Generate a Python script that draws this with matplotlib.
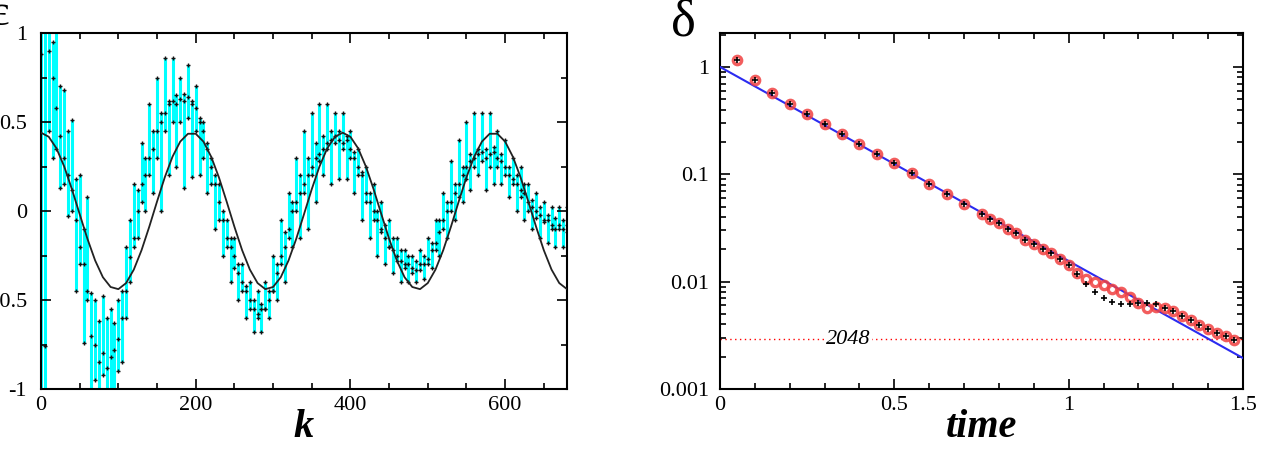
import numpy as np
import matplotlib
matplotlib.use("Agg")
import matplotlib.pyplot as plt
from matplotlib.ticker import MultipleLocator, LogLocator, NullFormatter

plt.rcParams['font.family'] = 'serif'
plt.rcParams['font.serif'] = ['Liberation Serif']
plt.rcParams['axes.unicode_minus'] = False

# ---------------- left panel data ----------------
k_pts = np.arange(0, 681, 5)   # sample positions
y_hi = [1.2, 1.2, 1.1, 0.95, 1.05, 0.7, 0.68, 0.45, 0.51, 0.18,
        0.2, -0.1, 0.08, -0.46, -0.5, -0.62, -0.48, -0.6, -0.55, -0.63,
        -0.5, -0.45, -0.2, -0.05, 0.15, 0.12, 0.38, 0.3, 0.6, 0.45,
        0.75, 0.55, 0.86, 0.62, 0.86, 0.65, 0.75, 0.66, 0.82, 0.62,
        0.7, 0.52, 0.5, 0.38, 0.3, 0.2, 0.15, 0.0, -0.05, -0.15,
        -0.15, -0.3, -0.3, -0.42, -0.4, -0.5, -0.45, -0.52, -0.4, -0.45,
        -0.25, -0.3, -0.05, -0.12, 0.1, 0.05, 0.3, 0.2, 0.45, 0.3,
        0.55, 0.38, 0.6, 0.42, 0.6, 0.45, 0.55, 0.45, 0.55, 0.42,
        0.45, 0.33, 0.35, 0.22, 0.25, 0.1, 0.15, 0.0, 0.05, -0.08,
        -0.05, -0.15, -0.15, -0.22, -0.22, -0.25, -0.25, -0.28, -0.22, -0.25,
        -0.15, -0.18, -0.05, -0.05, 0.1, 0.05, 0.28, 0.15, 0.4, 0.25,
        0.5, 0.32, 0.55, 0.35, 0.55, 0.35, 0.55, 0.36, 0.45, 0.32,
        0.4, 0.25, 0.3, 0.2, 0.25, 0.15, 0.15, 0.06, 0.1, 0.02,
        0.05, -0.02, 0.02, -0.04, 0.02, -0.05, 0.02]
y_lo = [-1.2, -1.2, 0.45, 0.3, 0.35, 0.13, 0.15, -0.03, 0.0, -0.45,
        -0.3, -0.74, -0.5, -1.1, -0.95, -1.1, -0.92, -1.1, -1.1, -1.05,
        -0.9, -0.85, -0.6, -0.4, -0.2, -0.15, 0.05, 0.0, 0.2, 0.1,
        0.3, 0.0, 0.45, 0.2, 0.5, 0.25, 0.5, 0.13, 0.52, 0.19,
        0.45, 0.2, 0.3, 0.1, 0.15, -0.1, -0.05, -0.25, -0.2, -0.4,
        -0.32, -0.5, -0.45, -0.6, -0.55, -0.68, -0.6, -0.68, -0.55, -0.6,
        -0.45, -0.5, -0.3, -0.4, -0.15, -0.2, 0.0, -0.15, 0.1, -0.1,
        0.2, 0.05, 0.28, 0.2, 0.35, 0.15, 0.38, 0.18, 0.35, 0.18,
        0.3, 0.1, 0.2, -0.05, 0.05, -0.15, -0.05, -0.25, -0.12, -0.3,
        -0.2, -0.35, -0.28, -0.4, -0.32, -0.4, -0.35, -0.4, -0.33, -0.38,
        -0.3, -0.32, -0.22, -0.25, -0.1, -0.15, 0.0, -0.05, 0.08, 0.05,
        0.18, 0.12, 0.25, 0.2, 0.28, 0.12, 0.25, 0.15, 0.25, 0.15,
        0.2, 0.08, 0.15, 0.0, 0.08, -0.05, 0.0, -0.1, -0.04, -0.15,
        -0.06, -0.18, -0.1, -0.2, -0.1, -0.2, -0.12]
y_mid = [0.88, -0.76, 0.9, 0.75, 0.58, 0.42, 0.3, 0.2, 0.12, -0.05,
         -0.2, -0.3, -0.45, -0.7, -0.75, -0.85, -0.8, -0.88, -0.82, -0.78,
         -0.72, -0.6, -0.45, -0.26, -0.15, 0.0, 0.15, 0.2, 0.3, 0.35,
         0.45, 0.5, 0.55, 0.6, 0.62, 0.6, 0.63, 0.62, 0.64, 0.6,
         0.58, 0.5, 0.45, 0.35, 0.25, 0.15, 0.05, -0.05, -0.15, -0.2,
         -0.25, -0.35, -0.4, -0.45, -0.5, -0.55, -0.58, -0.55, -0.55, -0.5,
         -0.45, -0.35, -0.25, -0.2, -0.1, 0.0, 0.05, 0.1, 0.15, 0.2,
         0.25, 0.3, 0.32, 0.35, 0.38, 0.4, 0.42, 0.4, 0.38, 0.4,
         0.35, 0.3, 0.25, 0.2, 0.1, 0.05, 0.0, -0.05, -0.1, -0.15,
         -0.2, -0.22, -0.25, -0.28, -0.3, -0.3, -0.32, -0.33, -0.3, -0.3,
         -0.27, -0.22, -0.18, -0.12, -0.05, 0.0, 0.05, 0.1, 0.15, 0.2,
         0.25, 0.28, 0.3, 0.32, 0.33, 0.3, 0.32, 0.33, 0.3, 0.28,
         0.25, 0.2, 0.18, 0.15, 0.12, 0.1, 0.05, 0.02, 0.0, -0.02,
         -0.05, -0.05, -0.08, -0.1, -0.08, -0.1, -0.08]

# reference cosine curve, read every 10 in k
k_curve = np.arange(0, 681, 10)
y_curve = [0.440, 0.417, 0.352, 0.250, 0.122, -0.018, -0.156, -0.278, -0.372, -0.427,
           -0.439, -0.405, -0.329, -0.220, -0.088, 0.053, 0.189, 0.305, 0.390, 0.434,
           0.434, 0.390, 0.305, 0.189, 0.053, -0.088, -0.220, -0.329, -0.405, -0.439,
           -0.427, -0.372, -0.278, -0.156, -0.018, 0.122, 0.250, 0.352, 0.417, 0.440,
           0.417, 0.352, 0.250, 0.122, -0.018, -0.156, -0.278, -0.372, -0.427, -0.439,
           -0.405, -0.329, -0.220, -0.088, 0.053, 0.189, 0.305, 0.390, 0.434, 0.434,
           0.390, 0.305, 0.189, 0.053, -0.088, -0.220, -0.329, -0.405, -0.439]

# ---------------- right panel data ----------------
t_red = [0.05, 0.1, 0.15, 0.2, 0.25, 0.3, 0.35, 0.4, 0.45, 0.5, 0.55, 0.6, 0.65, 0.7, 0.75,
         0.775, 0.8, 0.825, 0.85, 0.875, 0.9, 0.925, 0.95, 0.975, 1.0, 1.025, 1.05, 1.075,
         1.1, 1.125, 1.15, 1.175, 1.2, 1.225, 1.25, 1.275, 1.3, 1.325, 1.35, 1.375, 1.4,
         1.425, 1.45, 1.475]
d_red = [1.16, 0.756, 0.575, 0.452, 0.362, 0.294, 0.237, 0.192, 0.155, 0.127, 0.102,
         0.0817, 0.0659, 0.0532, 0.0427, 0.0386, 0.0349, 0.0309, 0.0282, 0.0244, 0.0223,
         0.0201, 0.0184, 0.0163, 0.0143, 0.0121, 0.0106, 0.00998, 0.00924, 0.00859,
         0.00795, 0.00714, 0.00636, 0.00571, 0.00583, 0.00571, 0.00532, 0.00481, 0.00439,
         0.00397, 0.00364, 0.00334, 0.00311, 0.00286]
t_plus = t_red
d_plus = [1.16, 0.756, 0.575, 0.452, 0.362, 0.294, 0.237, 0.192, 0.155, 0.127, 0.102,
          0.0817, 0.0659, 0.0532, 0.0427, 0.0386, 0.0349, 0.0309, 0.0282, 0.0244, 0.0223,
          0.0201, 0.0184, 0.0163, 0.0143, 0.0118, 0.0095, 0.00805, 0.00708, 0.00646,
          0.00622, 0.00622, 0.00626, 0.00626, 0.0062, 0.00571, 0.00532, 0.00481, 0.00439,
          0.00397, 0.00364, 0.00334, 0.00311, 0.00286]
t_fit = [0.0, 1.5]
d_fit = [1.0, 0.00194]
level_2048 = 0.0029

fig = plt.figure(figsize=(12.66, 4.54), dpi=100)
ax1 = fig.add_axes([41/1266, 1-389/454, (567-41)/1266, (389-33)/454])
ax2 = fig.add_axes([720/1266, 1-389/454, (1243-720)/1266, (389-33)/454])

# left panel
ax1.vlines(k_pts, y_lo, y_hi, colors='#00ffff', lw=2.2, zorder=1)
ax1.plot(k_pts, y_hi, '+', color='#111111', ms=3.5, mew=1.0, zorder=2)
ax1.plot(k_pts, y_lo, '+', color='#111111', ms=3.5, mew=1.0, zorder=2)
ax1.plot(k_pts, y_mid, '+', color='#111111', ms=3.5, mew=1.0, zorder=2)
ax1.plot(k_curve, y_curve, color='#222222', lw=1.3, zorder=3)
ax1.set_xlim(0, 680)
ax1.set_ylim(-1, 1)
ax1.set_xticks([0, 200, 400, 600])
ax1.set_yticks([-1, -0.5, 0, 0.5, 1])
ax1.set_yticklabels(['-1', '-0.5', '0', '0.5', '1'])
ax1.xaxis.set_minor_locator(MultipleLocator(50))
ax1.yaxis.set_minor_locator(MultipleLocator(0.25))
ax1.set_xlabel('k', fontsize=29, fontweight='bold', style='italic', labelpad=-4)

# right panel
ax2.axhline(level_2048, color='red', ls=(0, (1, 2.5)), lw=1.0, zorder=1)
ax2.text(0.367, level_2048, '2048', fontsize=16, style='italic', ha='center', va='center',
         bbox=dict(fc='white', ec='none', pad=1), zorder=2)
ax2.plot(t_fit, d_fit, color='#2b2bf0', lw=1.5, zorder=3)
ax2.plot(t_red, d_red, 'o', mfc='none', mec='#f04040', ms=6, mew=2.4, alpha=0.85, zorder=4)
ax2.plot(t_plus, d_plus, '+', color='black', ms=4.5, mew=1.2, zorder=5)
ax2.set_yscale('log')
ax2.set_xlim(0, 1.5)
ax2.set_ylim(0.001, 2.07)
ax2.set_xticks([0, 0.5, 1, 1.5])
ax2.set_xticklabels(['0', '0.5', '1', '1.5'])
ax2.set_yticks([0.001, 0.01, 0.1, 1])
ax2.set_yticklabels(['0.001', '0.01', '0.1', '1'])
ax2.xaxis.set_minor_locator(MultipleLocator(0.1))
ax2.yaxis.set_minor_locator(LogLocator(base=10, subs=np.arange(2, 10)))
ax2.yaxis.set_minor_formatter(NullFormatter())
ax2.set_xlabel('time', fontsize=29, fontweight='bold', style='italic', labelpad=-4)

for ax in (ax1, ax2):
    for s in ax.spines.values():
        s.set_linewidth(1.5)
    ax.tick_params(which='both', direction='in', top=True, right=True, labelsize=16, width=1.2)
    ax.tick_params(which='major', length=7, pad=5)
    ax.tick_params(which='minor', length=4)
ax1.tick_params(axis='y', which='major', pad=10)
ax2.tick_params(axis='y', which='major', pad=8)

fig.text(683/1266, 1-22/454, 'δ', fontsize=38, ha='center', va='center')
fig.text(9/1266, 1-14/454, 'ε', fontsize=32, ha='right', va='center')

fig.savefig('out.png', dpi=100)
